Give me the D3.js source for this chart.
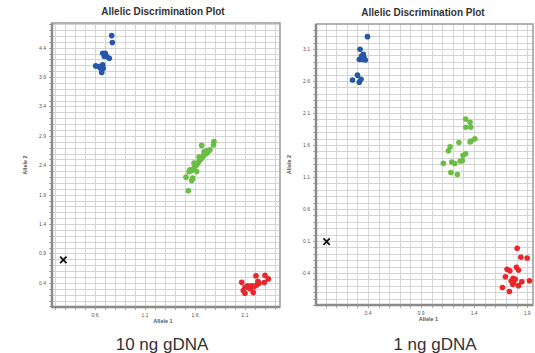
<!DOCTYPE html>
<html>
<head>
<meta charset="utf-8">
<script src="https://cdn.jsdelivr.net/npm/d3@7"></script>
<style>
  body { margin: 0; background: #fff; }
  svg { display: block; font-family: "Liberation Sans", Arial, sans-serif; }
</style>
</head>
<body>
<script>
// 10 ng gDNA panel
const blue10 = [
  [0.767, 4.606], [0.773, 4.487], [0.677, 4.306], [0.703, 4.306], [0.693, 4.249],
  [0.717, 4.249], [0.743, 4.221], [0.607, 4.09], [0.65, 4.061], [0.677, 4.108],
  [0.67, 4.034], [0.667, 3.977], [0.683, 4.051], [0.64, 4.08]
];
const green10 = [
  [1.79, 2.803], [1.785, 2.747], [1.667, 2.738], [1.75, 2.662], [1.733, 2.633],
  [1.717, 2.606], [1.70, 2.589], [1.683, 2.56], [1.667, 2.521], [1.65, 2.492],
  [1.633, 2.446], [1.617, 2.407], [1.60, 2.378], [1.583, 2.334], [1.567, 2.31],
  [1.55, 2.322], [1.617, 2.293], [1.51, 2.198], [1.577, 2.181], [1.567, 2.14],
  [1.533, 1.965], [1.72, 2.65], [1.69, 2.63], [1.64, 2.54], [1.59, 2.44], [1.54, 2.29]
];
const red10 = [
  [2.067, 0.409], [2.21, 0.519], [2.30, 0.528], [2.333, 0.468], [2.293, 0.405],
  [2.24, 0.395], [2.217, 0.366], [2.193, 0.337], [2.167, 0.349], [2.143, 0.31],
  [2.127, 0.349], [2.10, 0.327], [2.083, 0.269], [2.10, 0.225], [2.183, 0.235],
  [2.23, 0.422], [2.155, 0.30]
];
const ntc10 = [[0.283, 0.791]];

// 1 ng gDNA panel
const blue1 = [
  [0.395, 3.292], [0.325, 3.095], [0.356, 3.017], [0.318, 2.936], [0.362, 2.967],
  [0.343, 2.936], [0.375, 2.928], [0.301, 2.691], [0.254, 2.616], [0.334, 2.628],
  [0.318, 2.58], [0.339, 2.99]
];
const green1 = [
  [1.320, 2.005], [1.362, 1.956], [1.322, 1.877], [1.369, 1.877], [1.407, 1.697],
  [1.372, 1.663], [1.362, 1.647], [1.257, 1.639], [1.174, 1.573], [1.158, 1.509],
  [1.320, 1.464], [1.296, 1.439], [1.289, 1.355], [1.268, 1.35], [1.19, 1.334],
  [1.218, 1.311], [1.110, 1.314], [1.181, 1.17], [1.242, 1.139]
];
const red1 = [
  [1.806, -0.014], [1.841, -0.155], [1.9, -0.166], [1.711, -0.342], [1.737, -0.364],
  [1.799, -0.311], [1.818, -0.353], [1.695, -0.458], [1.768, -0.483], [1.787, -0.498],
  [1.749, -0.525], [1.771, -0.552], [1.765, -0.577], [1.85, -0.536], [1.922, -0.52],
  [1.818, -0.598], [1.667, -0.627], [1.733, -0.689]
];
const ntc1 = [[0.01, 0.09]];

// tick labels
const xTicks10 = [0.6, 1.1, 1.6, 2.1];
const yTicks10 = [0.4, 0.9, 1.4, 1.9, 2.4, 2.9, 3.4, 3.9, 4.4];
const xTicks1 = [0.4, 0.9, 1.4, 1.9];
const yTicks1 = [-0.4, 0.1, 0.6, 1.1, 1.6, 2.1, 2.6, 3.1];

const colors = { blue: "#2457a8", green: "#6cbd45", red: "#e8262b" };

const svg = d3.select("body").append("svg")
  .attr("width", 535)
  .attr("height", 353);

function drawPanel(p) {
  const x = d3.scaleLinear().domain(p.xDomain).range([p.left, p.right]);
  const y = d3.scaleLinear().domain(p.yDomain).range([p.bottom, p.top]);
  const g = svg.append("g");

  // fine grid every 0.1
  const step = v => d3.range(Math.ceil(v[0] * 10 - 1e-6), Math.floor(v[1] * 10 + 1e-6) + 1).map(i => i / 10);
  const gx = step(p.xDomain), gy = step(p.yDomain);

  g.append("g").selectAll("line").data(gx).join("line")
    .attr("x1", d => Math.round(x(d)) + 0.5).attr("x2", d => Math.round(x(d)) + 0.5)
    .attr("y1", p.top).attr("y2", p.bottom)
    .attr("stroke", "#d4d4d4").attr("stroke-width", 1);
  g.append("g").selectAll("line").data(gy).join("line")
    .attr("y1", d => Math.round(y(d)) + 0.5).attr("y2", d => Math.round(y(d)) + 0.5)
    .attr("x1", p.left).attr("x2", p.right)
    .attr("stroke", "#d4d4d4").attr("stroke-width", 1);

  // small outside ticks
  g.append("g").selectAll("line").data(gy).join("line")
    .attr("y1", d => Math.round(y(d)) + 0.5).attr("y2", d => Math.round(y(d)) + 0.5)
    .attr("x1", p.left - 3).attr("x2", p.left)
    .attr("stroke", "#aaa");
  g.append("g").selectAll("line").data(gx).join("line")
    .attr("x1", d => Math.round(x(d)) + 0.5).attr("x2", d => Math.round(x(d)) + 0.5)
    .attr("y1", p.bottom).attr("y2", p.bottom + 3)
    .attr("stroke", "#aaa");

  // frame
  g.append("rect")
    .attr("x", p.left).attr("y", p.top)
    .attr("width", p.right - p.left).attr("height", p.bottom - p.top)
    .attr("fill", "none").attr("stroke", "#9a9a9a").attr("stroke-width", 1.5);
  g.append("line")
    .attr("x1", p.left).attr("x2", p.left).attr("y1", p.top).attr("y2", p.bottom + 1)
    .attr("stroke", "#8a8a8a").attr("stroke-width", 2.5);
  g.append("line")
    .attr("x1", p.left - 1).attr("x2", p.right).attr("y1", p.bottom).attr("y2", p.bottom)
    .attr("stroke", "#8a8a8a").attr("stroke-width", 2.5);

  // tick labels
  g.append("g").selectAll("text").data(p.xTicks).join("text")
    .attr("x", d => x(d)).attr("y", p.bottom + 10)
    .attr("text-anchor", "middle").attr("font-size", 5).attr("fill", "#555")
    .text(d => d3.format(".1f")(d));
  g.append("g").selectAll("text").data(p.yTicks).join("text")
    .attr("x", p.left - 6).attr("y", d => y(d) + 2)
    .attr("text-anchor", "end").attr("font-size", 5).attr("fill", "#555")
    .text(d => d3.format(".1f")(d).replace("−", "-"));

  // axis titles
  g.append("text")
    .attr("x", (p.left + p.right) / 2 + p.xLabelShift).attr("y", p.bottom + 16)
    .attr("text-anchor", "middle").attr("font-size", 5.5).attr("font-weight", "bold")
    .attr("fill", "#555").text("Allele 1");
  g.append("text")
    .attr("transform", `translate(${p.left - 25},${(p.top + p.bottom) / 2}) rotate(-90)`)
    .attr("text-anchor", "middle").attr("font-size", 5.5).attr("font-weight", "bold")
    .attr("fill", "#555").text("Allele 2");

  // title
  g.append("text")
    .attr("x", p.titleX).attr("y", p.top - 8)
    .attr("text-anchor", "middle").attr("font-size", 10).attr("font-weight", "bold")
    .attr("fill", "#333").text("Allelic Discrimination Plot");

  // points
  const groups = [[p.blue, colors.blue], [p.green, colors.green], [p.red, colors.red]];
  groups.forEach(([data, c]) => {
    g.append("g").selectAll("circle").data(data).join("circle")
      .attr("cx", d => x(d[0])).attr("cy", d => y(d[1]))
      .attr("r", 2.8).attr("fill", c);
  });

  // no template control marker
  g.append("g").selectAll("path").data(p.ntc).join("path")
    .attr("d", d3.symbol(d3.symbolX, 28))
    .attr("transform", d => `translate(${x(d[0])},${y(d[1])})`)
    .attr("fill", "none").attr("stroke", "#111").attr("stroke-width", 1.8);

  // caption
  svg.append("text")
    .attr("x", p.captionX).attr("y", 350)
    .attr("text-anchor", "middle").attr("font-size", 17).attr("fill", "#333")
    .text(p.caption);
}

drawPanel({
  left: 52, right: 280, top: 23, bottom: 307,
  xDomain: [0.17, 2.45], yDomain: [-0.01, 4.82],
  xTicks: xTicks10, yTicks: yTicks10,
  blue: blue10, green: green10, red: red10, ntc: ntc10,
  titleX: 163, xLabelShift: -3, captionX: 162, caption: "10 ng gDNA"
});

drawPanel({
  left: 316, right: 533, top: 24, bottom: 305,
  xDomain: [-0.09, 1.955], yDomain: [-0.9, 3.49],
  xTicks: xTicks1, yTicks: yTicks1,
  blue: blue1, green: green1, red: red1, ntc: ntc1,
  titleX: 423, xLabelShift: 4, captionX: 435, caption: "1 ng gDNA"
});
</script>
</body>
</html>
